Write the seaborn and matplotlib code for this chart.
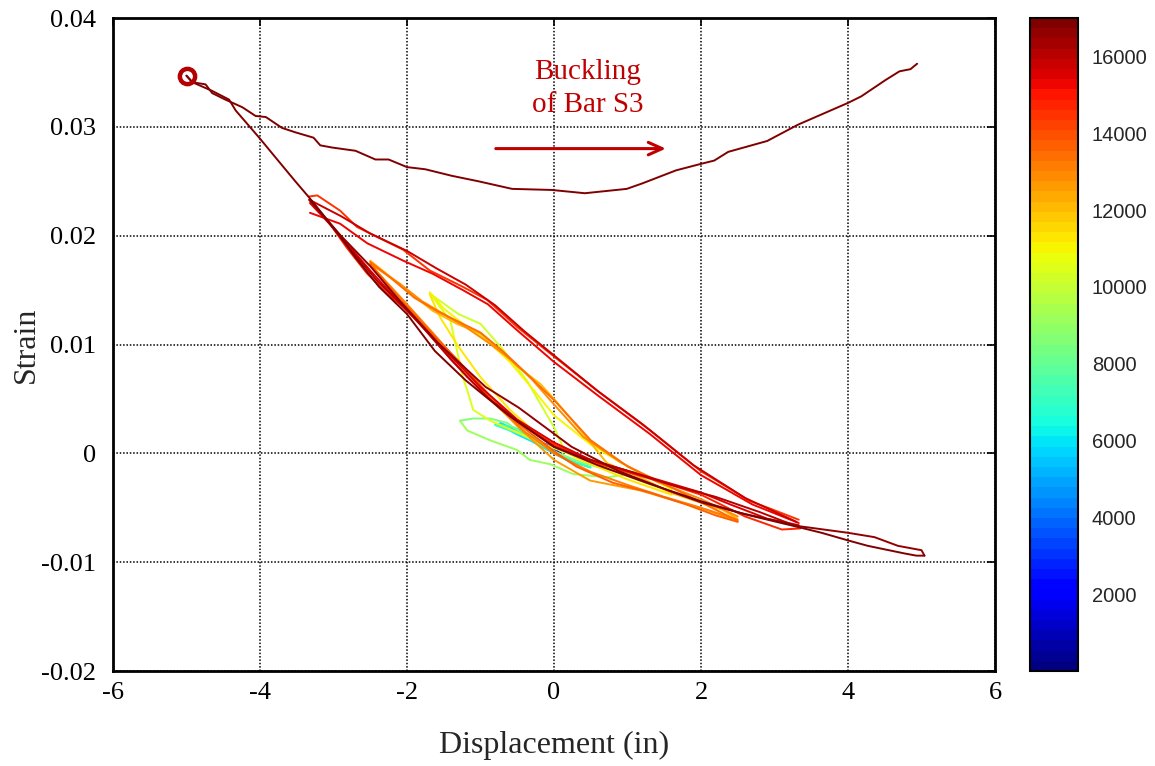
import numpy as np
import pandas as pd
import matplotlib
matplotlib.use("Agg")
import matplotlib.pyplot as plt
import matplotlib.colors as mcolors
import matplotlib.cm as cm
import seaborn as sns

# ---------------- data ----------------
# each branch: displacement (in), strain, load step (colour)
b1_x = [-0.25, -0.10, 0.05, 0.12, 0.00, -0.15, -0.28]
b1_y = [0.0012, 0.0008, 0.0002, -0.0002, 0.0002, 0.0008, 0.0013]
b1_step = 1500
b2_x = [-0.45, -0.20, 0.00, 0.20, 0.00, -0.25, -0.45]
b2_y = [0.0020, 0.0011, 0.0003, -0.0005, 0.0001, 0.0013, 0.0021]
b2_step = 3500

c1_x = [-0.73, -0.50, -0.30, -0.05, 0.20, 0.25, 0.00, -0.30, -0.55, -0.73]
c1_y = [0.0028, 0.0021, 0.0014, 0.0003, -0.0007, -0.0009, 0.0000, 0.0011, 0.0019, 0.0027]
c1_step = 6000
c2_x = [-0.80, -0.55, -0.30, 0.00, 0.30, 0.50, 0.20, -0.10, -0.45, -0.80]
c2_y = [0.0027, 0.0024, 0.0016, 0.0002, -0.0009, -0.0013, -0.0006, 0.0006, 0.0017, 0.0026]
c2_step = 7000

g1_up_x = [-1.28, -1.10, -0.87, -0.64, -0.37, -0.05, 0.40, 0.86, 1.15]
g1_up_y = [0.0030, 0.0032, 0.0032, 0.0028, 0.0015, 0.0003, -0.0009, -0.0017, -0.0017]
g1_up_step = 8600
g1_dn_x = [1.15, 0.72, 0.26, -0.05, -0.33, -0.50, -0.87, -1.18, -1.28]
g1_dn_y = [-0.0018, -0.0022, -0.0019, -0.0010, -0.0006, 0.0003, 0.0012, 0.0021, 0.0030]
g1_dn_step = 9200

y1_up_x = [-1.69, -1.55, -1.30, -1.00, -0.69, -0.37, 0.00, 0.12, 0.60, 1.20, 1.60]
y1_up_y = [0.0147, 0.0140, 0.0128, 0.0119, 0.0095, 0.0067, 0.0024, 0.0006, -0.0010, -0.0025, -0.0036]
y1_up_step = 10300
y1_dn_x = [1.60, 1.00, 0.50, -0.05, -0.46, -0.87, -1.10, -1.18, -1.24, -1.41, -1.69]
y1_dn_y = [-0.0036, -0.0021, -0.0008, 0.0006, 0.0018, 0.0030, 0.0040, 0.0058, 0.0070, 0.0122, 0.0147]
y1_dn_step = 10600
y2_up_x = [-1.69, -1.50, -1.20, -0.90, -0.60, -0.30, 0.00, 0.50, 1.00, 1.60]
y2_up_y = [0.0148, 0.0133, 0.0117, 0.0103, 0.0084, 0.0060, 0.0035, 0.0008, -0.0012, -0.0033]
y2_up_step = 11000
y2_dn_x = [1.60, 1.00, 0.30, -0.20, -0.60, -1.00, -1.30, -1.55, -1.69]
y2_dn_y = [-0.0038, -0.0024, -0.0004, 0.0016, 0.0040, 0.0070, 0.0098, 0.0125, 0.0146]
y2_dn_step = 11400

o1_up_x = [-2.50, -2.00, -1.65, -1.32, -1.00, -0.78, -0.50, -0.19, 0.00, 0.40, 0.72, 1.17, 1.62, 2.30, 2.49]
o1_up_y = [0.0177, 0.0150, 0.0131, 0.0119, 0.0110, 0.0097, 0.0080, 0.0064, 0.0050, 0.0018, -0.0009, -0.0022, -0.0037, -0.0052, -0.0060]
o1_up_step = 12200
o1_dn_x = [2.49, 2.08, 1.62, 1.17, 0.49, 0.00, -0.50, -0.97, -1.28, -1.55, -1.86, -2.23, -2.50]
o1_dn_y = [-0.0062, -0.0052, -0.0043, -0.0034, -0.0025, -0.0006, 0.0025, 0.0058, 0.0083, 0.0101, 0.0125, 0.0150, 0.0175]
o1_dn_step = 12500
o2_up_x = [-2.45, -2.10, -1.80, -1.50, -1.20, -0.90, -0.60, -0.30, 0.00, 0.40, 0.90, 1.40, 2.00, 2.50]
o2_up_y = [0.0172, 0.0156, 0.0140, 0.0128, 0.0116, 0.0102, 0.0087, 0.0068, 0.0045, 0.0015, -0.0008, -0.0026, -0.0042, -0.0058]
o2_up_step = 12800
o2_dn_x = [2.50, 2.00, 1.50, 1.00, 0.50, 0.00, -0.40, -0.80, -1.20, -1.60, -2.00, -2.45]
o2_dn_y = [-0.0061, -0.0050, -0.0040, -0.0029, -0.0017, 0.0000, 0.0020, 0.0045, 0.0076, 0.0107, 0.0137, 0.0170]
o2_dn_step = 13100
o3_up_x = [-2.50, -2.20, -1.90, -1.60, -1.30, -1.00, -0.70, -0.40, 0.00, 0.50, 1.00, 1.50, 2.00, 2.50]
o3_up_y = [0.0176, 0.0160, 0.0143, 0.0131, 0.0121, 0.0111, 0.0094, 0.0075, 0.0049, 0.0012, -0.0012, -0.0028, -0.0045, -0.0062]
o3_up_step = 13400
o3_dn_x = [2.50, 2.20, 1.80, 1.30, 0.80, 0.30, 0.00, -0.50, -0.90, -1.30, -1.70, -2.10, -2.50]
o3_dn_y = [-0.0063, -0.0057, -0.0047, -0.0036, -0.0027, -0.0012, 0.0002, 0.0028, 0.0055, 0.0085, 0.0113, 0.0142, 0.0174]
o3_dn_step = 13700

r1_up_x = [-3.33, -3.22, -2.91, -2.68, -2.41, -2.05, -1.69, -1.24, -0.91, -0.50, 0.00, 0.58, 1.31, 1.99, 2.67, 2.91, 3.33]
r1_up_y = [0.0236, 0.0237, 0.0223, 0.0208, 0.0199, 0.0187, 0.0168, 0.0153, 0.0141, 0.0116, 0.0089, 0.0058, 0.0021, -0.0016, -0.0044, -0.0050, -0.0061]
r1_up_step = 14500
r1_dn_x = [3.35, 3.10, 2.60, 2.00, 1.54, 1.09, 0.63, 0.00, -0.28, -0.73, -1.18, -1.59, -1.96, -2.27, -2.54, -2.82, -3.05, -3.33]
r1_dn_y = [-0.0069, -0.0070, -0.0058, -0.0038, -0.0028, -0.0019, -0.0010, 0.0008, 0.0020, 0.0041, 0.0070, 0.0101, 0.0129, 0.0147, 0.0165, 0.0189, 0.0211, 0.0233]
r1_dn_step = 14800
r2_up_x = [-3.32, -2.91, -2.54, -2.05, -1.65, -1.24, -0.90, -0.50, 0.00, 0.60, 1.30, 2.00, 2.70, 3.33]
r2_up_y = [0.0221, 0.0211, 0.0193, 0.0177, 0.0165, 0.0150, 0.0137, 0.0113, 0.0084, 0.0053, 0.0018, -0.0020, -0.0047, -0.0064]
r2_up_step = 15200
r2_dn_x = [3.33, 2.90, 2.40, 2.00, 1.50, 1.00, 0.50, 0.00, -0.50, -1.00, -1.50, -2.00, -2.50, -3.00, -3.32]
r2_dn_y = [-0.0066, -0.0060, -0.0047, -0.0036, -0.0026, -0.0016, -0.0006, 0.0010, 0.0031, 0.0061, 0.0096, 0.0131, 0.0168, 0.0207, 0.0230]
r2_dn_step = 15500
r3_up_x = [-3.30, -2.90, -2.50, -2.00, -1.60, -1.20, -0.80, -0.40, 0.00, 0.60, 1.20, 1.90, 2.60, 3.30]
r3_up_y = [0.0232, 0.0218, 0.0202, 0.0186, 0.0170, 0.0155, 0.0136, 0.0112, 0.0090, 0.0057, 0.0027, -0.0011, -0.0041, -0.0063]
r3_up_step = 15900
r3_dn_x = [3.30, 2.80, 2.20, 1.60, 1.00, 0.40, 0.00, -0.40, -0.90, -1.40, -1.90, -2.40, -2.90, -3.30]
r3_dn_y = [-0.0067, -0.0054, -0.0040, -0.0029, -0.0016, -0.0004, 0.0006, 0.0025, 0.0051, 0.0086, 0.0125, 0.0158, 0.0198, 0.0232]
r3_dn_step = 16200

f_out_x = [-3.33, -2.90, -2.50, -2.11, -1.57, -0.93, -0.48, -0.12, 0.24, 0.87, 1.55, 2.00, 2.55, 3.34, 4.00, 4.36, 4.68, 5.00, 5.04]
f_out_y = [0.0233, 0.0200, 0.0172, 0.0141, 0.0101, 0.0061, 0.0042, 0.0024, 0.0006, -0.0016, -0.0034, -0.0045, -0.0055, -0.0067, -0.0073, -0.0077, -0.0085, -0.0089, -0.0094]
f_out_step = 16500
f_back_x = [5.04, 4.93, 4.77, 4.27, 4.00, 3.64, 3.34, 2.60, 2.00, 1.30, 0.60, 0.00, -0.60, -1.20, -1.62, -2.00, -2.38, -2.70, -2.97, -3.33, -3.52, -3.79, -4.01, -4.33, -4.42, -4.65, -4.92, -5.00]
f_back_y = [-0.0094, -0.0094, -0.0092, -0.0085, -0.0080, -0.0073, -0.0068, -0.0056, -0.0044, -0.0028, -0.0011, 0.0006, 0.0034, 0.0067, 0.0094, 0.0128, 0.0153, 0.0180, 0.0205, 0.0235, 0.0250, 0.0272, 0.0290, 0.0315, 0.0325, 0.0333, 0.0341, 0.0347]
f_back_step = 16800
buck_x = [-5.00, -4.92, -4.74, -4.65, -4.47, -4.24, -4.06, -3.92, -3.70, -3.52, -3.27, -3.18, -3.02, -2.70, -2.43, -2.25, -2.00, -1.75, -1.39, -1.03, -0.57, -0.03, 0.42, 0.99, 1.20, 1.66, 2.00, 2.18, 2.37, 2.90, 3.32, 3.66, 4.00, 4.18, 4.51, 4.70, 4.85, 4.94]
buck_y = [0.0347, 0.0341, 0.0339, 0.0331, 0.0325, 0.0318, 0.0310, 0.0309, 0.0299, 0.0295, 0.0290, 0.0283, 0.0281, 0.0278, 0.0270, 0.0270, 0.0263, 0.0261, 0.0255, 0.0250, 0.0243, 0.0242, 0.0239, 0.0243, 0.0248, 0.0260, 0.0266, 0.0269, 0.0277, 0.0287, 0.0302, 0.0312, 0.0322, 0.0328, 0.0343, 0.0351, 0.0353, 0.0358]
buck_step = 17000

marker_x = [-4.99]
marker_y = [0.0347]

step_min, step_max = 1, 17000
cbar_ticks = [2000, 4000, 6000, 8000, 10000, 12000, 14000, 16000]
x_ticks = [-6, -4, -2, 0, 2, 4, 6]
y_ticks = [-0.02, -0.01, 0, 0.01, 0.02, 0.03, 0.04]
y_ticklabels = ["-0.02", "-0.01", "0", "0.01", "0.02", "0.03", "0.04"]

branches = [
    ("b1", b1_x, b1_y, b1_step), ("b2", b2_x, b2_y, b2_step),
    ("c1", c1_x, c1_y, c1_step), ("c2", c2_x, c2_y, c2_step),
    ("g1u", g1_up_x, g1_up_y, g1_up_step), ("g1d", g1_dn_x, g1_dn_y, g1_dn_step),
    ("y1u", y1_up_x, y1_up_y, y1_up_step), ("y1d", y1_dn_x, y1_dn_y, y1_dn_step),
    ("y2u", y2_up_x, y2_up_y, y2_up_step), ("y2d", y2_dn_x, y2_dn_y, y2_dn_step),
    ("o1u", o1_up_x, o1_up_y, o1_up_step), ("o1d", o1_dn_x, o1_dn_y, o1_dn_step),
    ("o2u", o2_up_x, o2_up_y, o2_up_step), ("o2d", o2_dn_x, o2_dn_y, o2_dn_step),
    ("o3u", o3_up_x, o3_up_y, o3_up_step), ("o3d", o3_dn_x, o3_dn_y, o3_dn_step),
    ("r1u", r1_up_x, r1_up_y, r1_up_step), ("r1d", r1_dn_x, r1_dn_y, r1_dn_step),
    ("r2u", r2_up_x, r2_up_y, r2_up_step), ("r2d", r2_dn_x, r2_dn_y, r2_dn_step),
    ("r3u", r3_up_x, r3_up_y, r3_up_step), ("r3d", r3_dn_x, r3_dn_y, r3_dn_step),
    ("fo", f_out_x, f_out_y, f_out_step), ("fb", f_back_x, f_back_y, f_back_step),
    ("bk", buck_x, buck_y, buck_step),
]
frames = []
for name, xs, ys, st in branches:
    frames.append(pd.DataFrame({"disp": xs, "strain": ys, "step": st, "branch": name,
                                "order": range(len(xs))}))
df = pd.concat(frames, ignore_index=True)

# ---------------- plot ----------------
sns.set_style("white")
plt.rcParams["font.family"] = ["Liberation Serif", "DejaVu Serif"]

fig = plt.figure(figsize=(11.55, 7.66), dpi=100)
ax = fig.add_axes([0.0978, 0.124, 0.7637, 0.8525])
cax = fig.add_axes([0.8918, 0.124, 0.0416, 0.8525])

cmap = plt.get_cmap("jet", 64)
norm = mcolors.Normalize(vmin=step_min, vmax=step_max)

sns.lineplot(data=df, x="disp", y="strain", hue="step", units="branch",
             estimator=None, sort=False, palette=cmap, hue_norm=norm,
             legend=False, linewidth=1.4, ax=ax)

ax.plot(marker_x, marker_y, marker="o", markersize=11, markerfacecolor="none",
        markeredgecolor="#b40000", markeredgewidth=3.2, linestyle="none", zorder=5)

ax.set_xlim(-6, 6)
ax.set_ylim(-0.02, 0.04)
ax.set_xticks(x_ticks)
ax.set_xticklabels([str(t) for t in x_ticks])
ax.set_yticks(y_ticks)
ax.set_yticklabels(y_ticklabels)
ax.grid(True, color="black", linestyle=(0, (1, 1.2)), linewidth=1.1)
ax.tick_params(direction="in", length=6, width=1.2, top=True, right=True,
               labelsize=19, colors="black")
ax.tick_params(axis="x", pad=8)
ax.tick_params(axis="y", pad=12)
for s in ax.spines.values():
    s.set_visible(True)
    s.set_color("black")
    s.set_linewidth(2)
ax.set_xlabel("Displacement (in)", fontsize=23, labelpad=19)
ax.set_ylabel("Strain", fontsize=23, labelpad=0)

ax.text(0.46, 0.0335, "Buckling\nof Bar S3", ha="center", va="center",
        fontsize=21, color="#c00000", linespacing=1.35)
ax.annotate("", xy=(1.56, 0.0280), xytext=(-0.83, 0.0280),
            arrowprops=dict(arrowstyle="->,head_length=1.0,head_width=0.45",
                            color="#c00000", lw=2.2))

sm = cm.ScalarMappable(norm=norm, cmap=cmap)
cb = fig.colorbar(sm, cax=cax, ticks=cbar_ticks)
cb.outline.set_linewidth(1.5)
cb.outline.set_edgecolor("black")
cax.tick_params(direction="in", length=6, width=1, left=True, right=True,
                labelsize=14.5, pad=10)
for lab in cax.get_yticklabels():
    lab.set_fontfamily(["Liberation Sans", "DejaVu Sans"])

fig.savefig("out.png", dpi=100)
